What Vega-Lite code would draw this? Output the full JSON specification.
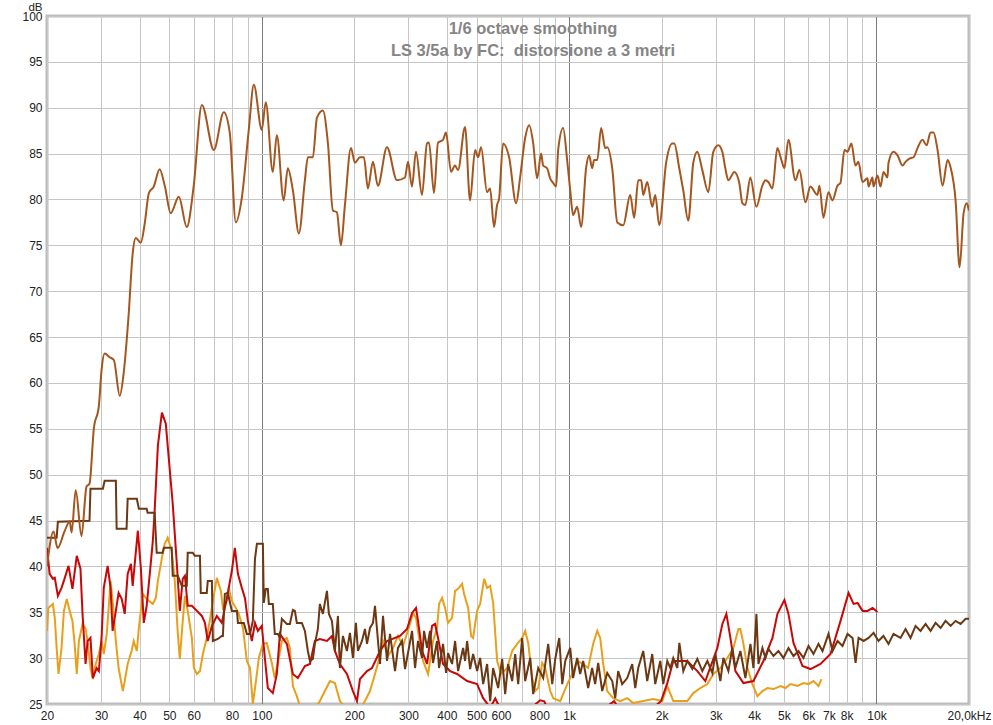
{
"$schema": "https://vega.github.io/schema/vega-lite/v6.json",
"width": 922, "height": 688,
"autosize": {"type": "none"},
"padding": {"left": 47, "top": 16, "right": 24, "bottom": 21},
"background": "white",
"config": {"view": {"stroke": "#bcbcbc", "strokeWidth": 3}},
"title": {"text": ["1/6 octave smoothing", "LS 3/5a by FC: \u00a0distorsione a 3 metri"], "anchor": "middle", "frame": "group", "dx": 25, "offset": -58, "color": "#858585", "fontSize": 16.5, "fontWeight": "bold", "font": "Liberation Sans", "lineHeight": 22},
"datasets": {
"orange": [
{"f":20,"db":32.97},{"f":20.2,"db":35.48},{"f":20.9,"db":35.91},{"f":21.2,"db":34.39},{"f":21.5,"db":31.11},{"f":21.8,"db":28.27},{"f":22.3,"db":31.11},{"f":22.7,"db":35.15},{"f":23.2,"db":36.46},{"f":23.7,"db":35.15},{"f":24.2,"db":34.06},{"f":24.6,"db":31.55},{"f":25.0,"db":28.27},{"f":25.4,"db":31.87},{"f":26.1,"db":33.73},{"f":26.7,"db":33.18},{"f":27.1,"db":31.87},{"f":27.7,"db":28.92},{"f":28.2,"db":27.72},{"f":28.6,"db":28.92},{"f":29.0,"db":29.69},{"f":29.5,"db":30.45},{"f":30.1,"db":31.87},{"f":30.6,"db":30.45},{"f":31.3,"db":32.64},{"f":32.2,"db":38.42},{"f":32.7,"db":36.24},{"f":33.5,"db":31.87},{"f":34.2,"db":28.92},{"f":35.3,"db":26.41},{"f":35.8,"db":27.5},{"f":36.6,"db":29.36},{"f":37.7,"db":30.78},{"f":38.3,"db":31.87},{"f":39.2,"db":30.78},{"f":39.8,"db":33.29},{"f":41.0,"db":37.0},{"f":41.9,"db":36.57},{"f":42.9,"db":36.24},{"f":44.2,"db":35.91},{"f":45.2,"db":36.57},{"f":45.9,"db":38.42},{"f":47.3,"db":40.93},{"f":48.3,"db":42.46},{"f":49.4,"db":43.12},{"f":50.9,"db":41.7},{"f":52.1,"db":38.42},{"f":53.3,"db":32.64},{"f":54.1,"db":29.91},{"f":55.3,"db":34.06},{"f":56.2,"db":36.79},{"f":57.4,"db":35.15},{"f":59.2,"db":32.2},{"f":60.1,"db":28.92},{"f":61.5,"db":28.27},{"f":62.9,"db":28.59},{"f":64.3,"db":30.45},{"f":66.2,"db":32.2},{"f":67.7,"db":34.06},{"f":69.3,"db":36.24},{"f":71.4,"db":38.75},{"f":73.6,"db":37.33},{"f":74.7,"db":35.48},{"f":77.0,"db":36.24},{"f":78.1,"db":37.66},{"f":79.9,"db":36.24},{"f":82.3,"db":35.48},{"f":84.2,"db":34.82},{"f":86.8,"db":33.29},{"f":89.4,"db":29.69},{"f":91.5,"db":28.92},{"f":93.5,"db":25.0},{"f":95.7,"db":27.5},{"f":97.8,"db":30.02},{"f":100.8,"db":31.55},{"f":103.8,"db":31.66},{"f":107.8,"db":29.47},{"f":110.2,"db":27.83},{"f":112.8,"db":29.47},{"f":116.2,"db":31.87},{"f":120.6,"db":32.2},{"f":123.4,"db":31.11},{"f":126.2,"db":26.96},{"f":130.0,"db":25.86},{"f":133.0,"db":24.77},{"f":141.2,"db":24.0},{"f":148.8,"db":24.44},{"f":154.5,"db":25.32},{"f":160.4,"db":26.41},{"f":166.6,"db":27.5},{"f":172.9,"db":27.28},{"f":179.5,"db":25.32},{"f":193.5,"db":24.0},{"f":208.6,"db":24.44},{"f":216.6,"db":25.32},{"f":224.9,"db":26.41},{"f":233.5,"db":28.27},{"f":242.4,"db":30.23},{"f":247.9,"db":31.87},{"f":257.4,"db":30.23},{"f":267.2,"db":31.11},{"f":277.4,"db":32.42},{"f":288.0,"db":31.33},{"f":303.6,"db":33.73},{"f":310.5,"db":34.93},{"f":317.5,"db":34.39},{"f":324.8,"db":32.2},{"f":334.7,"db":29.69},{"f":347.5,"db":28.27},{"f":360.7,"db":31.87},{"f":371.7,"db":33.29},{"f":377.3,"db":35.91},{"f":385.9,"db":36.57},{"f":394.7,"db":35.48},{"f":403.7,"db":33.84},{"f":416.0,"db":34.39},{"f":425.5,"db":37.33},{"f":435.2,"db":37.55},{"f":448.4,"db":38.1},{"f":455.2,"db":37.0},{"f":469.1,"db":35.48},{"f":479.8,"db":32.42},{"f":487.0,"db":32.2},{"f":501.8,"db":35.15},{"f":513.3,"db":35.91},{"f":528.9,"db":38.64},{"f":540.9,"db":37.66},{"f":553.3,"db":37.88},{"f":565.8,"db":36.02},{"f":583.1,"db":29.69},{"f":600.9,"db":28.27},{"f":628.5,"db":28.92},{"f":652.5,"db":30.78},{"f":677.5,"db":31.55},{"f":703.4,"db":32.2},{"f":719.4,"db":32.97},{"f":735.8,"db":31.66},{"f":758.2,"db":27.83},{"f":775.4,"db":26.41},{"f":793.1,"db":26.74},{"f":817.2,"db":29.47},{"f":835.9,"db":28.92},{"f":867.8,"db":26.41},{"f":887.5,"db":25.64},{"f":935.4,"db":25.32},{"f":985.8,"db":27.17},{"f":1023,"db":28.27},{"f":1062,"db":29.69},{"f":1111,"db":29.36},{"f":1153,"db":28.92},{"f":1197,"db":31.55},{"f":1234,"db":32.97},{"f":1262,"db":32.2},{"f":1291,"db":29.36},{"f":1330,"db":26.41},{"f":1391,"db":25.64},{"f":1466,"db":25.32},{"f":1545,"db":25.64},{"f":1616,"db":25.1},{"f":1742,"db":25.32},{"f":1878,"db":25.53},{"f":2009,"db":25.32},{"f":2086,"db":26.96},{"f":2182,"db":25.32},{"f":2300,"db":25.32},{"f":2424,"db":25.32},{"f":2535,"db":26.19},{"f":2672,"db":26.74},{"f":2816,"db":27.17},{"f":2946,"db":28.27},{"f":3105,"db":28.92},{"f":3272,"db":30.02},{"f":3423,"db":31.11},{"f":3554,"db":33.18},{"f":3607,"db":33.18},{"f":3690,"db":31.55},{"f":3802,"db":28.92},{"f":3947,"db":27.17},{"f":4098,"db":25.86},{"f":4255,"db":26.41},{"f":4417,"db":26.74},{"f":4621,"db":26.63},{"f":4870,"db":26.96},{"f":5056,"db":26.74},{"f":5249,"db":27.17},{"f":5533,"db":26.96},{"f":5787,"db":27.28},{"f":6009,"db":27.17},{"f":6238,"db":27.5},{"f":6477,"db":26.96},{"f":6624,"db":27.72}
],
"red": [
{"f":20,"db":42.03},{"f":20.4,"db":39.19},{"f":20.9,"db":38.64},{"f":21.2,"db":38.75},{"f":21.7,"db":36.79},{"f":22.3,"db":37.66},{"f":22.8,"db":38.64},{"f":23.5,"db":40.06},{"f":24.2,"db":37.55},{"f":25.0,"db":41.15},{"f":25.7,"db":39.74},{"f":26.1,"db":34.82},{"f":26.7,"db":29.36},{"f":27.1,"db":31.87},{"f":27.7,"db":32.2},{"f":28.2,"db":27.83},{"f":29.0,"db":28.92},{"f":29.5,"db":28.59},{"f":30.1,"db":32.2},{"f":30.6,"db":37.66},{"f":31.5,"db":40.06},{"f":32.2,"db":37.66},{"f":32.7,"db":32.97},{"f":33.5,"db":35.15},{"f":34.2,"db":37.11},{"f":35.0,"db":36.46},{"f":35.8,"db":34.82},{"f":36.6,"db":39.19},{"f":37.5,"db":40.28},{"f":38.0,"db":37.88},{"f":39.5,"db":43.89},{"f":40.4,"db":39.84},{"f":41.3,"db":33.84},{"f":42.2,"db":35.7},{"f":43.2,"db":39.19},{"f":44.2,"db":42.79},{"f":44.8,"db":46.07},{"f":45.9,"db":53.17},{"f":47.3,"db":56.77},{"f":48.7,"db":55.57},{"f":50.2,"db":50.44},{"f":51.3,"db":46.83},{"f":52.9,"db":40.28},{"f":54.1,"db":35.15},{"f":55.3,"db":38.64},{"f":56.2,"db":38.97},{"f":57.4,"db":35.7},{"f":59.2,"db":35.7},{"f":61.5,"db":35.15},{"f":63.8,"db":34.6},{"f":65.3,"db":33.84},{"f":66.7,"db":31.87},{"f":68.8,"db":33.51},{"f":71.4,"db":34.6},{"f":74.1,"db":33.84},{"f":77.0,"db":36.57},{"f":79.9,"db":39.52},{"f":81.7,"db":42.03},{"f":83.6,"db":39.19},{"f":86.1,"db":37.66},{"f":88.1,"db":36.57},{"f":90.1,"db":34.06},{"f":92.8,"db":31.87},{"f":95.0,"db":33.84},{"f":97.1,"db":32.97},{"f":100,"db":33.51},{"f":102.3,"db":30.02},{"f":104.6,"db":26.74},{"f":108.6,"db":26.19},{"f":111.9,"db":28.27},{"f":114.5,"db":32.64},{"f":120.6,"db":31.55},{"f":126.2,"db":28.27},{"f":131.0,"db":27.83},{"f":138.1,"db":29.14},{"f":143.4,"db":29.36},{"f":148.8,"db":31.87},{"f":154.5,"db":32.09},{"f":162.9,"db":31.87},{"f":169.1,"db":32.42},{"f":172.9,"db":30.78},{"f":179.5,"db":29.36},{"f":189.2,"db":28.27},{"f":197.9,"db":26.41},{"f":204.0,"db":25.32},{"f":208.6,"db":27.72},{"f":219.9,"db":28.59},{"f":228.3,"db":28.92},{"f":242.4,"db":30.78},{"f":255.5,"db":31.87},{"f":281.6,"db":32.42},{"f":296.8,"db":33.18},{"f":308.2,"db":34.93},{"f":317.5,"db":35.48},{"f":322.3,"db":34.06},{"f":332.2,"db":30.78},{"f":344.9,"db":29.36},{"f":358.0,"db":33.51},{"f":366.2,"db":33.73},{"f":374.5,"db":32.2},{"f":388.8,"db":29.36},{"f":409.8,"db":28.59},{"f":431.9,"db":28.27},{"f":465.6,"db":27.5},{"f":501.8,"db":27.17},{"f":525.0,"db":25.64},{"f":553.3,"db":24.6},{"f":575,"db":25.6},{"f":596.4,"db":24.5},{"f":642.8,"db":24.2},{"f":692.9,"db":24.0},{"f":746.9,"db":24.5},{"f":805.1,"db":25.4},{"f":830,"db":25.3},{"f":854.9,"db":24.3},{"f":935.4,"db":23.8},{"f":1111,"db":24.0},{"f":1262,"db":24.2},{"f":1400,"db":25.3},{"f":1466,"db":24.3},{"f":1666,"db":24.0},{"f":1878,"db":24.6},{"f":1990,"db":25.3},{"f":2086,"db":27.28},{"f":2182,"db":29.69},{"f":2300,"db":29.69},{"f":2424,"db":29.69},{"f":2613,"db":28.59},{"f":2774,"db":27.5},{"f":3036,"db":31.11},{"f":3152,"db":33.73},{"f":3248,"db":34.82},{"f":3347,"db":32.2},{"f":3475,"db":28.59},{"f":3690,"db":27.28},{"f":3977,"db":27.5},{"f":4287,"db":29.69},{"f":4586,"db":32.2},{"f":4762,"db":34.82},{"f":5018,"db":36.35},{"f":5171,"db":34.82},{"f":5369,"db":31.66},{"f":5744,"db":29.14},{"f":6099,"db":28.81},{"f":6574,"db":29.36},{"f":7087,"db":30.45},{"f":7639,"db":34.06},{"f":8111,"db":37.11},{"f":8422,"db":35.91},{"f":8678,"db":36.02},{"f":9010,"db":35.15},{"f":9354,"db":35.15},{"f":9712,"db":35.48},{"f":10075,"db":35.04}
],
"noise": [
{"f":20,"db":43.12},{"f":21.5,"db":43.12},{"f":21.7,"db":44.87},{"f":27.5,"db":44.98},{"f":27.7,"db":48.47},{"f":30.4,"db":48.47},{"f":30.8,"db":49.34},{"f":33.5,"db":49.34},{"f":33.7,"db":44.1},{"f":36.3,"db":44.1},{"f":36.6,"db":47.38},{"f":39.2,"db":47.38},{"f":39.8,"db":46.29},{"f":42.2,"db":46.29},{"f":42.5,"db":45.85},{"f":44.8,"db":45.85},{"f":45.5,"db":41.48},{"f":47.6,"db":41.48},{"f":48.0,"db":42.03},{"f":50.9,"db":42.03},{"f":51.3,"db":38.97},{"f":53.3,"db":38.97},{"f":54.9,"db":37.88},{"f":57.0,"db":37.88},{"f":57.4,"db":41.48},{"f":59.6,"db":41.48},{"f":60.5,"db":41.15},{"f":62.9,"db":41.15},{"f":63.3,"db":37.11},{"f":66.2,"db":37.11},{"f":66.7,"db":38.42},{"f":68.8,"db":38.42},{"f":69.3,"db":31.87},{"f":71.9,"db":32.09},{"f":74.1,"db":32.42},{"f":74.7,"db":32.42},{"f":75.8,"db":37.0},{"f":77.5,"db":37.11},{"f":79.9,"db":35.15},{"f":83.0,"db":35.15},{"f":83.6,"db":33.84},{"f":87.4,"db":33.84},{"f":89.4,"db":32.64},{"f":91.5,"db":32.64},{"f":93.5,"db":34.06},{"f":95.0,"db":40.82},{"f":96.4,"db":42.46},{"f":100.8,"db":42.46},{"f":101.5,"db":36.02},{"f":103.0,"db":37.55},{"f":104.6,"db":37.55},{"f":105.4,"db":35.91},{"f":108.6,"db":35.91},{"f":110.2,"db":32.64},{"f":112.8,"db":32.64},{"f":114.5,"db":32.2},{"f":116.2,"db":34.28},{"f":120.6,"db":33.73},{"f":123.4,"db":33.73},{"f":126.2,"db":35.26},{"f":128.1,"db":35.15},{"f":130.0,"db":33.84},{"f":135.0,"db":33.84},{"f":138.1,"db":32.97},{"f":141.2,"db":30.78},{"f":143.4,"db":29.69},{"f":146.6,"db":29.91},{"f":148.8,"db":31.55},{"f":152.2,"db":33.18},{"f":154.5,"db":35.91},{"f":158.0,"db":34.82},{"f":162.9,"db":37.33},{"f":165.3,"db":34.82},{"f":169.1,"db":34.06},{"f":172.9,"db":30.78},{"f":176.9,"db":34.6},{"f":179.5,"db":28.92},{"f":183.6,"db":32.42},{"f":189.2,"db":30.78},{"f":193.5,"db":32.75},{"f":197.9,"db":30.02},{"f":202.4,"db":33.84},{"f":205.5,"db":30.78},{"f":211.8,"db":31.87},{"f":216.6,"db":33.18},{"f":219.9,"db":31.55},{"f":224.9,"db":33.29},{"f":230.0,"db":33.84},{"f":233.5,"db":35.7},{"f":238.8,"db":31.87},{"f":242.4,"db":29.36},{"f":247.9,"db":34.6},{"f":255.5,"db":29.69},{"f":261.3,"db":32.64},{"f":271.3,"db":28.59},{"f":277.4,"db":31.11},{"f":285.9,"db":31.87},{"f":292.4,"db":28.81},{"f":299.0,"db":30.56},{"f":308.2,"db":32.97},{"f":315.2,"db":28.92},{"f":322.3,"db":31.87},{"f":332.2,"db":30.02},{"f":337.2,"db":32.97},{"f":344.9,"db":31.11},{"f":352.7,"db":32.97},{"f":360.7,"db":29.47},{"f":371.7,"db":31.87},{"f":377.3,"db":28.92},{"f":388.8,"db":31.55},{"f":397.7,"db":28.38},{"f":403.7,"db":30.56},{"f":416.0,"db":29.36},{"f":425.5,"db":31.87},{"f":435.2,"db":28.59},{"f":451.8,"db":31.11},{"f":458.6,"db":29.69},{"f":465.6,"db":31.87},{"f":476.2,"db":28.81},{"f":487.0,"db":30.45},{"f":501.8,"db":28.59},{"f":513.3,"db":30.02},{"f":525.0,"db":27.17},{"f":540.9,"db":29.36},{"f":553.3,"db":25.32},{"f":565.8,"db":28.92},{"f":587.5,"db":26.74},{"f":605.4,"db":29.91},{"f":619.2,"db":26.08},{"f":633.2,"db":29.36},{"f":652.5,"db":27.5},{"f":667.4,"db":30.45},{"f":682.6,"db":27.17},{"f":703.4,"db":32.2},{"f":719.4,"db":27.5},{"f":746.9,"db":30.02},{"f":763.9,"db":26.08},{"f":793.1,"db":28.92},{"f":823.4,"db":27.83},{"f":854.9,"db":31.55},{"f":880.9,"db":27.17},{"f":901.0,"db":29.91},{"f":928.4,"db":32.2},{"f":949.5,"db":27.17},{"f":971.2,"db":29.69},{"f":1008,"db":31.11},{"f":1030,"db":27.83},{"f":1062,"db":30.02},{"f":1086,"db":28.27},{"f":1111,"db":29.69},{"f":1153,"db":26.74},{"f":1188,"db":28.92},{"f":1215,"db":27.17},{"f":1243,"db":29.47},{"f":1281,"db":26.41},{"f":1330,"db":28.38},{"f":1381,"db":27.5},{"f":1412,"db":25.64},{"f":1444,"db":28.59},{"f":1488,"db":27.17},{"f":1545,"db":27.83},{"f":1604,"db":29.36},{"f":1641,"db":26.74},{"f":1678,"db":28.92},{"f":1742,"db":30.78},{"f":1795,"db":27.5},{"f":1864,"db":30.45},{"f":1906,"db":27.17},{"f":1979,"db":29.69},{"f":2024,"db":27.17},{"f":2086,"db":29.69},{"f":2134,"db":28.92},{"f":2182,"db":30.02},{"f":2249,"db":28.92},{"f":2283,"db":31.66},{"f":2352,"db":28.59},{"f":2424,"db":29.69},{"f":2516,"db":28.81},{"f":2613,"db":29.91},{"f":2712,"db":28.59},{"f":2816,"db":29.69},{"f":2924,"db":28.38},{"f":2990,"db":30.45},{"f":3105,"db":27.5},{"f":3175,"db":30.02},{"f":3297,"db":28.59},{"f":3397,"db":31.11},{"f":3475,"db":28.92},{"f":3607,"db":30.78},{"f":3745,"db":27.83},{"f":3889,"db":31.55},{"f":3977,"db":28.92},{"f":4068,"db":34.82},{"f":4129,"db":29.36},{"f":4255,"db":31.11},{"f":4352,"db":30.02},{"f":4451,"db":31.0},{"f":4621,"db":30.23},{"f":4797,"db":30.78},{"f":4981,"db":30.02},{"f":5171,"db":31.11},{"f":5369,"db":30.23},{"f":5574,"db":30.78},{"f":5787,"db":30.02},{"f":6009,"db":31.33},{"f":6238,"db":30.45},{"f":6477,"db":31.55},{"f":6674,"db":30.78},{"f":6981,"db":32.64},{"f":7194,"db":30.78},{"f":7469,"db":31.87},{"f":7754,"db":31.33},{"f":8051,"db":32.64},{"f":8359,"db":32.2},{"f":8549,"db":29.47},{"f":8743,"db":32.2},{"f":9077,"db":31.87},{"f":9424,"db":32.2},{"f":9785,"db":32.75},{"f":10151,"db":31.87},{"f":10539,"db":32.42},{"f":10942,"db":31.55},{"f":11360,"db":32.64},{"f":11973,"db":32.2},{"f":12431,"db":33.18},{"f":12906,"db":32.2},{"f":13399,"db":33.51},{"f":13911,"db":32.97},{"f":14443,"db":33.73},{"f":14996,"db":32.97},{"f":15568,"db":33.84},{"f":16164,"db":33.29},{"f":16781,"db":34.06},{"f":17423,"db":33.51},{"f":18089,"db":34.06},{"f":18780,"db":33.73},{"f":19499,"db":34.28},{"f":20000,"db":34.28}
],
"main": [
{"f":20,"db":40.0},{"f":21.0,"db":43.8},{"f":21.65,"db":42.0},{"f":22.8,"db":43.8},{"f":23.7,"db":44.9},{"f":24.05,"db":43.7},{"f":24.8,"db":48.3},{"f":25.9,"db":43.3},{"f":26.9,"db":48.7},{"f":27.5,"db":49.0},{"f":28.4,"db":55.0},{"f":29.5,"db":57.5},{"f":30.1,"db":61.4},{"f":30.8,"db":63.2},{"f":32.0,"db":62.8},{"f":33.0,"db":62.5},{"f":34.5,"db":58.6},{"f":35.5,"db":61.0},{"f":36.9,"db":67.6},{"f":38.0,"db":74.1},{"f":38.9,"db":75.8},{"f":40.4,"db":75.3},{"f":41.6,"db":77.4},{"f":42.9,"db":80.7},{"f":44.5,"db":81.4},{"f":46.5,"db":83.3},{"f":48.4,"db":81.4},{"f":50.5,"db":78.5},{"f":53.7,"db":80.3},{"f":57.0,"db":77.0},{"f":60.0,"db":81.4},{"f":63.8,"db":90.3},{"f":69.8,"db":85.4},{"f":75.2,"db":89.5},{"f":78.7,"db":87.2},{"f":82.3,"db":77.5},{"f":86.1,"db":80.2},{"f":90.7,"db":87.6},{"f":94.2,"db":92.5},{"f":100,"db":87.6},{"f":103,"db":90.6},{"f":108.6,"db":83},{"f":111.9,"db":87},{"f":117.8,"db":79.9},{"f":121.5,"db":83.4},{"f":126.2,"db":81},{"f":132,"db":76.3},{"f":138.1,"db":82.1},{"f":141.2,"db":84.6},{"f":146.6,"db":84.6},{"f":151.1,"db":88.9},{"f":158,"db":89.7},{"f":164.1,"db":86.1},{"f":170.3,"db":78.8},{"f":175.5,"db":78.6},{"f":180.9,"db":75},{"f":186.4,"db":79.4},{"f":195,"db":85.6},{"f":200.9,"db":84},{"f":208.6,"db":84.6},{"f":214.9,"db":84.6},{"f":221.4,"db":81.2},{"f":229.9,"db":84.1},{"f":238.7,"db":81.5},{"f":255.4,"db":85.7},{"f":275.3,"db":82.1},{"f":292.3,"db":82.4},{"f":299,"db":84.1},{"f":308,"db":81.4},{"f":317.4,"db":85.2},{"f":332,"db":80.5},{"f":344.7,"db":86.1},{"f":349.9,"db":86.2},{"f":363.3,"db":80.7},{"f":374.4,"db":86.2},{"f":388.7,"db":86.5},{"f":397.5,"db":87.3},{"f":412.7,"db":83},{"f":425.3,"db":83.7},{"f":434.9,"db":83.2},{"f":458.4,"db":87.9},{"f":476,"db":79.9},{"f":494.2,"db":85.4},{"f":505.4,"db":84.6},{"f":516.9,"db":85.7},{"f":540.6,"db":80.8},{"f":552.9,"db":81.2},{"f":569.7,"db":77},{"f":582.7,"db":79.4},{"f":591.6,"db":80.1},{"f":609.6,"db":86.1},{"f":637.7,"db":84.6},{"f":672.2,"db":79.6},{"f":692.6,"db":82.4},{"f":719.1,"db":86.7},{"f":740.9,"db":88.1},{"f":763.4,"db":86.2},{"f":786.7,"db":82.3},{"f":810.7,"db":85},{"f":822.9,"db":83.7},{"f":847.9,"db":83.4},{"f":867.2,"db":82.3},{"f":887,"db":81.8},{"f":907.2,"db":81.4},{"f":920.9,"db":85.4},{"f":956.1,"db":87.8},{"f":985.1,"db":84.3},{"f":1008,"db":81},{"f":1030,"db":78.3},{"f":1062,"db":79.2},{"f":1094,"db":77},{"f":1136,"db":83.5},{"f":1162,"db":84.8},{"f":1188,"db":83.4},{"f":1206,"db":84.3},{"f":1234,"db":84.3},{"f":1271,"db":87.8},{"f":1310,"db":85.6},{"f":1330,"db":85.7},{"f":1381,"db":83.4},{"f":1434,"db":77.5},{"f":1500,"db":77.2},{"f":1580,"db":80.5},{"f":1628,"db":78},{"f":1678,"db":82.1},{"f":1716,"db":82.1},{"f":1742,"db":80.5},{"f":1795,"db":81.9},{"f":1864,"db":79.2},{"f":1906,"db":80.5},{"f":1964,"db":77.2},{"f":2070,"db":84.1},{"f":2165,"db":86.1},{"f":2198,"db":86.1},{"f":2282,"db":83.4},{"f":2351,"db":81},{"f":2441,"db":77.7},{"f":2535,"db":84},{"f":2612,"db":85.2},{"f":2712,"db":83.2},{"f":2837,"db":80.8},{"f":2945,"db":85.2},{"f":3057,"db":85.9},{"f":3150,"db":85.2},{"f":3222,"db":83.4},{"f":3295,"db":82.1},{"f":3447,"db":83},{"f":3578,"db":81.8},{"f":3660,"db":79.6},{"f":3744,"db":79.4},{"f":3887,"db":82.4},{"f":4066,"db":79.2},{"f":4253,"db":81.5},{"f":4350,"db":82.1},{"f":4449,"db":81.9},{"f":4584,"db":81.2},{"f":4759,"db":85.6},{"f":4904,"db":84.3},{"f":5015,"db":83.4},{"f":5169,"db":86.5},{"f":5447,"db":82.1},{"f":5613,"db":83.2},{"f":5871,"db":79.7},{"f":6096,"db":81.4},{"f":6424,"db":80.5},{"f":6521,"db":81.5},{"f":6720,"db":78},{"f":6977,"db":80.8},{"f":7190,"db":79.9},{"f":7464,"db":81.5},{"f":7634,"db":81.8},{"f":7867,"db":85.4},{"f":8045,"db":85.2},{"f":8289,"db":86.1},{"f":8542,"db":83.7},{"f":8737,"db":84.1},{"f":9004,"db":81.9},{"f":9348,"db":82.3},{"f":9418,"db":81.4},{"f":9705,"db":82.4},{"f":9778,"db":81.4},{"f":10076,"db":82.6},{"f":10304,"db":81.4},{"f":10539,"db":83},{"f":10860,"db":82.4},{"f":10942,"db":84},{"f":11360,"db":85.2},{"f":11706,"db":84.8},{"f":12153,"db":83.7},{"f":12430,"db":84.1},{"f":12902,"db":84.5},{"f":13197,"db":84.6},{"f":13600,"db":85.6},{"f":14118,"db":86.5},{"f":14550,"db":85.9},{"f":14993,"db":87.3},{"f":15335,"db":87.3},{"f":15801,"db":85.4},{"f":16406,"db":81.5},{"f":17033,"db":84.3},{"f":17418,"db":83.5},{"f":18087,"db":79.9},{"f":18640,"db":72.6},{"f":19208,"db":78.5},{"f":19647,"db":79.6},{"f":20000,"db":78.8}
]
},
"encoding": {
"x": {"field": "f", "type": "quantitative", "scale": {"type": "log", "domain": [20, 20000], "nice": false},
 "axis": {"values": [20,30,40,50,60,70,80,90,100,200,300,400,500,600,700,800,900,1000,2000,3000,4000,5000,6000,7000,8000,9000,10000,20000],
  "labelExpr": "datum.value==20000 ? '20,0kHz' : (datum.value==70||datum.value==90||datum.value==700||datum.value==900||datum.value==9000) ? '' : datum.value>=1000 ? (datum.value/1000)+'k' : ''+datum.value",
  "labelOverlap": false, "labelFlush": false, "ticks": false, "domain": false, "grid": true,
  "gridColor": {"condition": {"test": "datum.value==100||datum.value==1000||datum.value==10000", "value": "#7a7a7a"}, "value": "#c6c6c6"},
  "gridWidth": 1, "title": null, "labelFont": "Liberation Sans", "labelFontSize": 12, "labelColor": "#222222", "labelPadding": 6}},
"y": {"field": "db", "type": "quantitative", "scale": {"domain": [25, 100], "nice": false, "zero": false},
 "axis": {"values": [25,30,35,40,45,50,55,60,65,70,75,80,85,90,95,100], "ticks": false, "domain": false, "grid": true, "gridColor": "#c6c6c6",
  "title": "dB", "titleAngle": 0, "titleX": -5, "titleY": -6, "titleAlign": "right", "titleBaseline": "alphabetic", "titleFontWeight": "normal", "titleFont": "Liberation Sans", "titleFontSize": 11.5, "titleColor": "#222222",
  "labelFont": "Liberation Sans", "labelFontSize": 12, "labelColor": "#222222", "labelPadding": 5}}
},
"layer": [
{"data": {"name": "orange"}, "mark": {"type": "line", "color": "#e8a01c", "strokeWidth": 2, "clip": true}},
{"data": {"name": "red"}, "mark": {"type": "line", "color": "#c80808", "strokeWidth": 2, "clip": true}},
{"data": {"name": "noise"}, "mark": {"type": "line", "color": "#6b3813", "strokeWidth": 2, "clip": true}},
{"data": {"name": "main"}, "mark": {"type": "line", "color": "#a4561e", "strokeWidth": 2, "clip": true, "interpolate": "monotone"}}
]
}
